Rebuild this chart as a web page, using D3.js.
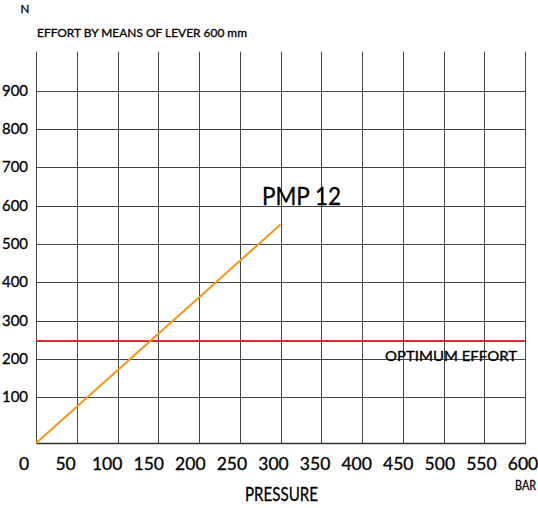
<!DOCTYPE html>
<html>
<head>
<meta charset="utf-8">
<script src="https://cdn.jsdelivr.net/npm/d3@7"></script>
<style>
  html, body { margin: 0; padding: 0; background: #fff; }
  svg { display: block; }
  text { font-family: Lato, "Open Sans", "DejaVu Sans", sans-serif; fill: #000; font-weight: 400; stroke: #000; stroke-width: 0.3; }
</style>
</head>
<body>
<svg id="chart" width="538" height="508"></svg>
<script>
// ---- data ----
const pressureTicks = [0, 50, 100, 150, 200, 250, 300, 350, 400, 450, 500, 550, 600];
const effortTicks = [100, 200, 300, 400, 500, 600, 700, 800, 900];
const pmpPressure = [0, 300];
const pmpEffort = [-20, 551];
const optimumEffort = [247];
const seriesLabel = "PMP 12";
const optimumLabel = "OPTIMUM EFFORT";

// ---- scales ----
const x = d3.scaleLinear().domain([0, 600]).range([36, 525]);
const xLabel = d3.scaleLinear().domain([0, 600]).range([24, 523]);
const y = d3.scaleLinear().domain([-20, 1000]).range([443.3, 52.5]);

const svg = d3.select("#chart");
const crisp = v => Math.round(v) + 0.5;

// grid: vertical lines
svg.append("g").selectAll("line").data(pressureTicks).join("line")
  .attr("x1", d => crisp(x(d))).attr("x2", d => crisp(x(d)))
  .attr("y1", y(1002)).attr("y2", crisp(y(-20)))
  .attr("stroke", "#444").attr("stroke-width", 1);

// grid: horizontal lines
svg.append("g").selectAll("line").data(effortTicks).join("line")
  .attr("x1", x(0)).attr("x2", x(600))
  .attr("y1", d => crisp(y(d))).attr("y2", d => crisp(y(d)))
  .attr("stroke", "#444").attr("stroke-width", 1);

// bottom axis line
svg.append("line")
  .attr("x1", x(0)).attr("x2", crisp(x(600)) + 0.5)
  .attr("y1", crisp(y(-20))).attr("y2", crisp(y(-20)))
  .attr("stroke", "#333").attr("stroke-width", 1.3);

// optimum effort line
svg.append("g").selectAll("line").data(optimumEffort).join("line")
  .attr("x1", x(0)).attr("x2", x(600))
  .attr("y1", d => y(d)).attr("y2", d => y(d))
  .attr("stroke", "#e8262d").attr("stroke-width", 2);

// PMP 12 line
const pts = pmpPressure.map((p, i) => [p, pmpEffort[i]]);
svg.append("path").datum(pts)
  .attr("d", d3.line().x(d => x(d[0])).y(d => y(d[1])))
  .attr("fill", "none").attr("stroke", "#f7941d").attr("stroke-width", 2);

// y tick labels
svg.append("g").selectAll("text").data(effortTicks).join("text")
  .attr("x", 28).attr("y", d => y(d) + 5)
  .attr("text-anchor", "end")
  .attr("font-size", 14.5)
  .attr("textLength", 26).attr("lengthAdjust", "spacingAndGlyphs")
  .text(d => d);

// x tick labels
svg.append("g").selectAll("text").data(pressureTicks).join("text")
  .attr("x", d => xLabel(d)).attr("y", 470)
  .attr("text-anchor", "middle")
  .attr("font-size", 17.5)
  .text(d => d);

// titles and labels
svg.append("text").attr("x", 20.5).attr("y", 12.5).attr("font-size", 11.5).text("N");
svg.append("text").attr("x", 37).attr("y", 36.5).attr("font-size", 11.5)
  .attr("textLength", 210).attr("lengthAdjust", "spacingAndGlyphs")
  .text("EFFORT BY MEANS OF LEVER 600 mm");
svg.append("text").attr("x", 245).attr("y", 500.5).attr("font-size", 18.5)
  .attr("textLength", 73).attr("lengthAdjust", "spacingAndGlyphs")
  .text("PRESSURE");
svg.append("text").attr("x", 515).attr("y", 490).attr("font-size", 12.5)
  .attr("textLength", 21).attr("lengthAdjust", "spacingAndGlyphs")
  .text("BAR");
svg.append("text").attr("x", 262).attr("y", 205).attr("font-size", 25)
  .attr("textLength", 79).attr("lengthAdjust", "spacingAndGlyphs")
  .text(seriesLabel);
svg.append("text").attr("x", 385).attr("y", 360.5).attr("font-size", 13)
  .attr("textLength", 132).attr("lengthAdjust", "spacingAndGlyphs")
  .text(optimumLabel);
</script>
</body>
</html>
